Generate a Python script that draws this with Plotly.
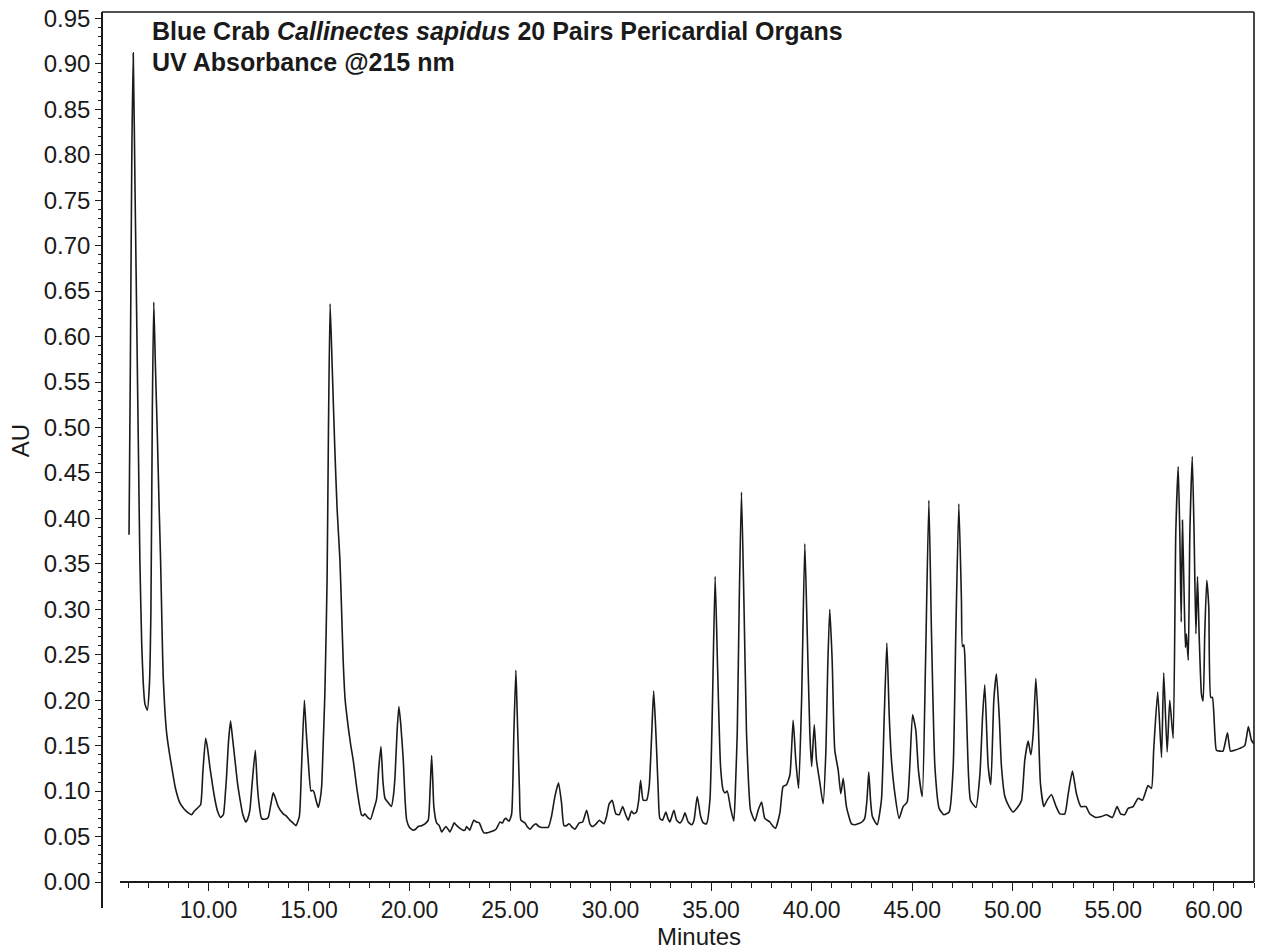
import plotly.graph_objects as go

# Retention time (minutes) and absorbance (AU)
minutes = [
    6.05, 6.12, 6.19, 6.26, 6.35, 6.45, 6.52, 6.59, 6.68, 6.76, 6.84, 6.96, 7.06, 7.14, 7.21, 7.28,
    7.36, 7.46, 7.55, 7.62, 7.70, 7.75, 7.83, 7.92, 8.05, 8.17, 8.35, 8.58, 8.80, 9.00, 9.16, 9.30,
    9.44, 9.61, 9.72, 9.86, 9.95, 10.07, 10.20, 10.32, 10.45, 10.60, 10.74, 10.85, 10.90, 11.00, 11.10,
    11.20, 11.32, 11.45, 11.57, 11.70, 11.86, 11.96, 12.06, 12.18, 12.33, 12.42, 12.50, 12.64, 12.80,
    12.97, 13.10, 13.22, 13.32, 13.47, 13.72, 13.85, 14.05, 14.20, 14.35, 14.52, 14.62, 14.77, 14.85,
    14.96, 15.10, 15.18, 15.25, 15.35, 15.46, 15.55, 15.63, 15.72, 15.79, 15.90, 15.97, 16.05, 16.15,
    16.28, 16.40, 16.54, 16.62, 16.70, 16.80, 16.95, 17.08, 17.20, 17.40, 17.61, 17.70, 17.78, 17.92,
    18.06, 18.22, 18.36, 18.47, 18.58, 18.68, 18.78, 18.95, 19.10, 19.20, 19.28, 19.38, 19.47, 19.56,
    19.69, 19.78, 19.86, 20.00, 20.19, 20.30, 20.43, 20.60, 20.77, 20.93, 21.02, 21.10, 21.16, 21.21,
    21.35, 21.48, 21.60, 21.70, 21.81, 21.92, 22.01, 22.12, 22.22, 22.35, 22.51, 22.66, 22.76, 22.84,
    22.92, 23.00, 23.10, 23.20, 23.33, 23.47, 23.60, 23.70, 23.85, 24.00, 24.15, 24.30, 24.40, 24.50,
    24.63, 24.72, 24.80, 24.88, 24.96, 25.08, 25.19, 25.29, 25.35, 25.41, 25.47, 25.54, 25.74, 25.85,
    25.99, 26.15, 26.29, 26.43, 26.57, 26.75, 26.90, 27.06, 27.23, 27.41, 27.56, 27.68, 27.80, 27.94,
    28.10, 28.23, 28.35, 28.44, 28.61, 28.81, 28.97, 29.10, 29.28, 29.44, 29.55, 29.67, 29.80, 29.93,
    30.08, 30.26, 30.43, 30.60, 30.75, 30.88, 31.04, 31.16, 31.29, 31.40, 31.49, 31.56, 31.62, 31.79,
    31.92, 32.04, 32.14, 32.22, 32.29, 32.37, 32.45, 32.58, 32.75, 32.85, 32.95, 33.15, 33.28, 33.45,
    33.58, 33.70, 33.86, 34.03, 34.15, 34.31, 34.48, 34.61, 34.77, 34.94, 35.07, 35.20, 35.32, 35.47,
    35.60, 35.70, 35.80, 35.97, 36.13, 36.22, 36.30, 36.40, 36.51, 36.63, 36.76, 36.86, 36.96, 37.18,
    37.34, 37.51, 37.67, 37.92, 38.05, 38.20, 38.42, 38.58, 38.75, 38.92, 39.08, 39.21, 39.35, 39.50,
    39.66, 39.78, 39.91, 40.00, 40.13, 40.24, 40.41, 40.57, 40.71, 40.80, 40.90, 41.02, 41.15, 41.32,
    41.45, 41.57, 41.73, 41.98, 42.15, 42.31, 42.50, 42.64, 42.75, 42.84, 42.93, 43.02, 43.26, 43.47,
    43.61, 43.74, 43.86, 43.97, 44.14, 44.35, 44.55, 44.75, 44.88, 45.02, 45.18, 45.31, 45.50, 45.66,
    45.83, 45.96, 46.13, 46.34, 46.57, 46.84, 47.04, 47.17, 47.32, 47.45, 47.50, 47.57, 47.62, 47.73,
    47.90, 48.17, 48.37, 48.50, 48.61, 48.78, 48.91, 49.06, 49.19, 49.33, 49.44, 49.61, 49.82, 50.02,
    50.27, 50.44, 50.60, 50.77, 50.90, 51.02, 51.15, 51.27, 51.38, 51.55, 51.71, 51.93, 52.14, 52.34,
    52.59, 52.76, 52.97, 53.17, 53.39, 53.64, 53.83, 54.13, 54.41, 54.66, 54.96, 55.19, 55.36, 55.57,
    55.74, 55.99, 56.24, 56.45, 56.73, 56.90, 57.01, 57.21, 57.40, 57.51, 57.68, 57.81, 57.98, 58.11,
    58.23, 58.31, 58.38, 58.44, 58.53, 58.59, 58.64, 58.73, 58.81, 58.93, 59.02, 59.11, 59.19, 59.27,
    59.39, 59.47, 59.55, 59.65, 59.75, 59.85, 59.93, 60.05, 60.13, 60.30, 60.46, 60.68, 60.83, 61.04,
    61.29, 61.54, 61.72, 61.87, 61.99,
]
absorbance = [
    0.382, 0.580, 0.800, 0.912, 0.760, 0.590, 0.470, 0.354, 0.263, 0.218, 0.196, 0.189, 0.215, 0.300, 0.520, 0.638,
    0.570, 0.490, 0.410, 0.354, 0.270, 0.226, 0.190, 0.164, 0.143, 0.127, 0.104, 0.087, 0.080, 0.076, 0.074, 0.078,
    0.081, 0.085, 0.120, 0.158, 0.148, 0.127, 0.107, 0.091, 0.078, 0.071, 0.074, 0.100, 0.116, 0.155, 0.177,
    0.158, 0.134, 0.108, 0.091, 0.075, 0.066, 0.070, 0.079, 0.110, 0.145, 0.110, 0.089, 0.070, 0.069,
    0.071, 0.085, 0.098, 0.093, 0.083, 0.075, 0.073, 0.068, 0.065, 0.062, 0.072, 0.120, 0.200, 0.170,
    0.134, 0.100, 0.101, 0.099, 0.090, 0.082, 0.090, 0.105, 0.160, 0.207, 0.331, 0.500, 0.636, 0.570,
    0.480, 0.410, 0.354, 0.300, 0.244, 0.200, 0.171, 0.150, 0.134, 0.100, 0.074, 0.073, 0.075, 0.071,
    0.069, 0.080, 0.091, 0.125, 0.149, 0.110, 0.092, 0.087, 0.083, 0.095, 0.116, 0.165, 0.193, 0.175,
    0.134, 0.090, 0.068, 0.060, 0.057, 0.058, 0.061, 0.062, 0.064, 0.068, 0.100, 0.139, 0.110, 0.083,
    0.065, 0.062, 0.055, 0.058, 0.061, 0.058, 0.055, 0.060, 0.065, 0.062, 0.059, 0.057, 0.057, 0.061,
    0.059, 0.057, 0.063, 0.068, 0.066, 0.065, 0.058, 0.054, 0.054, 0.055, 0.056, 0.058, 0.062, 0.066,
    0.065, 0.069, 0.070, 0.068, 0.067, 0.075, 0.164, 0.233, 0.190, 0.145, 0.100, 0.068, 0.065, 0.061,
    0.058, 0.062, 0.064, 0.061, 0.060, 0.060, 0.060, 0.072, 0.094, 0.109, 0.087, 0.062, 0.062, 0.064,
    0.060, 0.058, 0.062, 0.065, 0.066, 0.079, 0.064, 0.061, 0.064, 0.068, 0.066, 0.064, 0.072, 0.086,
    0.090, 0.075, 0.074, 0.083, 0.074, 0.068, 0.078, 0.075, 0.077, 0.090, 0.112, 0.098, 0.090, 0.090,
    0.105, 0.160, 0.210, 0.180, 0.145, 0.100, 0.070, 0.068, 0.077, 0.070, 0.066, 0.079, 0.068, 0.065,
    0.069, 0.076, 0.066, 0.063, 0.068, 0.094, 0.072, 0.065, 0.064, 0.090, 0.200, 0.336, 0.237, 0.127,
    0.101, 0.098, 0.100, 0.081, 0.067, 0.110, 0.164, 0.310, 0.429, 0.310, 0.164, 0.110, 0.079, 0.067,
    0.079, 0.088, 0.070, 0.066, 0.062, 0.059, 0.076, 0.105, 0.107, 0.118, 0.178, 0.134, 0.103, 0.200,
    0.372, 0.274, 0.164, 0.127, 0.173, 0.134, 0.109, 0.086, 0.145, 0.237, 0.300, 0.244, 0.145, 0.123,
    0.097, 0.114, 0.083, 0.064, 0.063, 0.064, 0.066, 0.070, 0.090, 0.121, 0.090, 0.072, 0.063, 0.090,
    0.182, 0.263, 0.182, 0.134, 0.097, 0.070, 0.083, 0.088, 0.127, 0.184, 0.167, 0.123, 0.094, 0.237,
    0.420, 0.274, 0.127, 0.081, 0.074, 0.077, 0.127, 0.274, 0.416, 0.310, 0.259, 0.261, 0.248, 0.164,
    0.090, 0.082, 0.119, 0.182, 0.217, 0.127, 0.107, 0.200, 0.229, 0.182, 0.127, 0.094, 0.083, 0.077,
    0.083, 0.090, 0.134, 0.155, 0.140, 0.164, 0.224, 0.175, 0.108, 0.083, 0.090, 0.096, 0.084, 0.075,
    0.075, 0.097, 0.122, 0.097, 0.083, 0.083, 0.075, 0.071, 0.072, 0.074, 0.071, 0.083, 0.075, 0.074,
    0.081, 0.083, 0.092, 0.090, 0.106, 0.103, 0.145, 0.209, 0.137, 0.230, 0.143, 0.200, 0.158, 0.384,
    0.457, 0.384, 0.286, 0.398, 0.310, 0.258, 0.273, 0.244, 0.384, 0.468, 0.384, 0.273, 0.336, 0.273,
    0.206, 0.199, 0.273, 0.332, 0.303, 0.203, 0.203, 0.164, 0.145, 0.144, 0.144, 0.164, 0.144, 0.145,
    0.147, 0.150, 0.171, 0.156, 0.152,
]

title_line1 = "<b>Blue Crab <i>Callinectes sapidus</i> 20 Pairs Pericardial Organs</b>"
title_line2 = "<b>UV Absorbance @215 nm</b>"
x_title = "Minutes"
y_title = "AU"

FONT = "Liberation Sans, Arial, Helvetica, sans-serif"
INK = "#1a1a1a"

y_minor = [round(i * 0.01, 2) for i in range(0, 96) if i % 5 != 0]

fig = go.Figure()
fig.add_trace(go.Scatter(
    x=minutes, y=absorbance, mode="lines",
    line=dict(color=INK, width=1.6, shape="spline", smoothing=0.5),
    hoverinfo="x+y", showlegend=False,
))

fig.update_layout(
    width=1265, height=952,
    margin=dict(l=102, r=11, t=12, b=44, autoexpand=False),
    paper_bgcolor="white", plot_bgcolor="white",
    font=dict(family=FONT, color=INK, size=23),
    xaxis=dict(
        range=[5.6, 62.0], domain=[0.0156, 1.0],
        anchor="free", position=0.029,
        showline=True, linecolor=INK, linewidth=1.6,
        showgrid=False, zeroline=False, automargin=False,
        ticks="outside", ticklen=8, tickwidth=1.4, tickcolor=INK,
        tick0=0, dtick=5, tickformat=".2f",
        tickfont=dict(size=23, family=FONT, color=INK),
        ticklabeloverflow="allow",
        minor=dict(dtick=1, ticks="outside", ticklen=5, tickwidth=1.2, tickcolor=INK, showgrid=False),
    ),
    yaxis=dict(
        range=[-0.0286, 0.957], domain=[0.0, 1.0],
        anchor="free", position=0.0,
        showline=True, linecolor=INK, linewidth=1.6,
        showgrid=False, zeroline=False, automargin=False,
        ticks="outside", ticklen=6, tickwidth=1.4, tickcolor=INK,
        tick0=0, dtick=0.05, tickformat=".2f",
        tickfont=dict(size=24, family=FONT, color=INK),
        ticklabeloverflow="allow",
        minor=dict(tickvals=y_minor, ticks="outside", ticklen=3, tickwidth=1.0, tickcolor=INK, showgrid=False),
    ),
    shapes=[
        dict(type="line", xref="paper", yref="paper", x0=0, x1=1, y0=1, y1=1,
             line=dict(color=INK, width=1.6)),
        dict(type="line", xref="paper", yref="paper", x0=1, x1=1, y0=0.029, y1=1,
             line=dict(color=INK, width=1.6)),
    ],
    annotations=[
        dict(text=title_line1, xref="paper", yref="paper", x=0.0417, y=0.979,
             xanchor="left", yanchor="middle", showarrow=False,
             font=dict(size=25, family=FONT, color=INK)),
        dict(text=title_line2, xref="paper", yref="paper", x=0.0417, y=0.944,
             xanchor="left", yanchor="middle", showarrow=False,
             font=dict(size=25, family=FONT, color=INK)),
        dict(text=x_title, xref="paper", yref="paper", x=0.518, y=-0.032,
             xanchor="center", yanchor="middle", showarrow=False,
             font=dict(size=24, family=FONT, color=INK)),
        dict(text=y_title, xref="paper", yref="paper", x=-0.0712, y=0.522,
             xanchor="center", yanchor="middle", showarrow=False, textangle=-90,
             font=dict(size=24, family=FONT, color=INK)),
    ],
)

# remove the page's default body margin so the figure fills the window exactly
fig.write_html(
    "out.html",
    config={"displayModeBar": False},
    post_script="document.body.style.margin='0';document.body.style.overflow='hidden';",
)
